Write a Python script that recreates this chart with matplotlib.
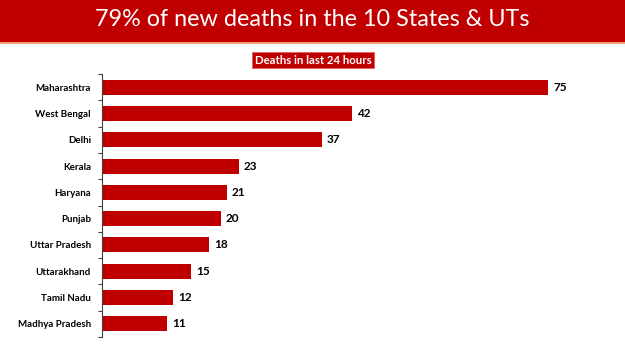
import numpy as np
import matplotlib.pyplot as plt
from matplotlib.patches import Rectangle

# data
states = ['Maharashtra', 'West Bengal', 'Delhi', 'Kerala', 'Haryana',
          'Punjab', 'Uttar Pradesh', 'Uttarakhand', 'Tamil Nadu', 'Madhya Pradesh']
deaths = [75, 42, 37, 23, 21, 20, 18, 15, 12, 11]

title = '79% of new deaths in the 10 States & UTs'
subtitle = 'Deaths in last 24 hours'

red = '#C00000'

fig = plt.figure(figsize=(6.25, 3.51), dpi=100)

# title band
fig.patches.append(Rectangle((0, 1 - 42 / 351), 1, 42 / 351, transform=fig.transFigure,
                             facecolor=red, edgecolor='none', zorder=0))
fig.patches.append(Rectangle((0, 1 - 44 / 351), 1, 2 / 351, transform=fig.transFigure,
                             facecolor='#F2A07E', edgecolor='none', zorder=0))
fig.text(312.5 / 625, 1 - 20 / 351, title, ha='center', va='center', color='white',
         fontsize=16.8, family='Lato')

# subtitle box
fig.text(313 / 625, 1 - 60 / 351, subtitle, ha='center', va='center', color='white',
         fontsize=8.2, fontweight='bold', family='Lato',
         bbox=dict(boxstyle='square,pad=0.25', facecolor=red, edgecolor='#E06060', linewidth=0.6))

ax = fig.add_axes([102 / 625, 1 - 337 / 351, 506 / 625, 263 / 351])
y = np.arange(len(states))
ax.barh(y, deaths, height=0.57, color=red)
ax.set_ylim(len(states) - 0.5, -0.5)
ax.set_xlim(0, 85)

for yi, v in zip(y, deaths):
    ax.text(v + 0.8, yi, str(v), va='center', ha='left', fontsize=8.5,
            fontweight='bold', family='Lato', color='black')

ax.set_yticks(y)
ax.set_yticklabels(states, fontsize=7, fontweight='bold', family='Lato')
ax.tick_params(axis='y', which='major', length=0, pad=8)
ax.set_yticks(np.arange(-0.5, len(states)), minor=True)
ax.tick_params(axis='y', which='minor', length=3, color='#404040', width=0.8)
ax.set_xticks([])
for s in ['top', 'right', 'bottom']:
    ax.spines[s].set_visible(False)
ax.spines['left'].set_color('#404040')
ax.spines['left'].set_linewidth(0.8)

fig.savefig('out.png', dpi=100)
